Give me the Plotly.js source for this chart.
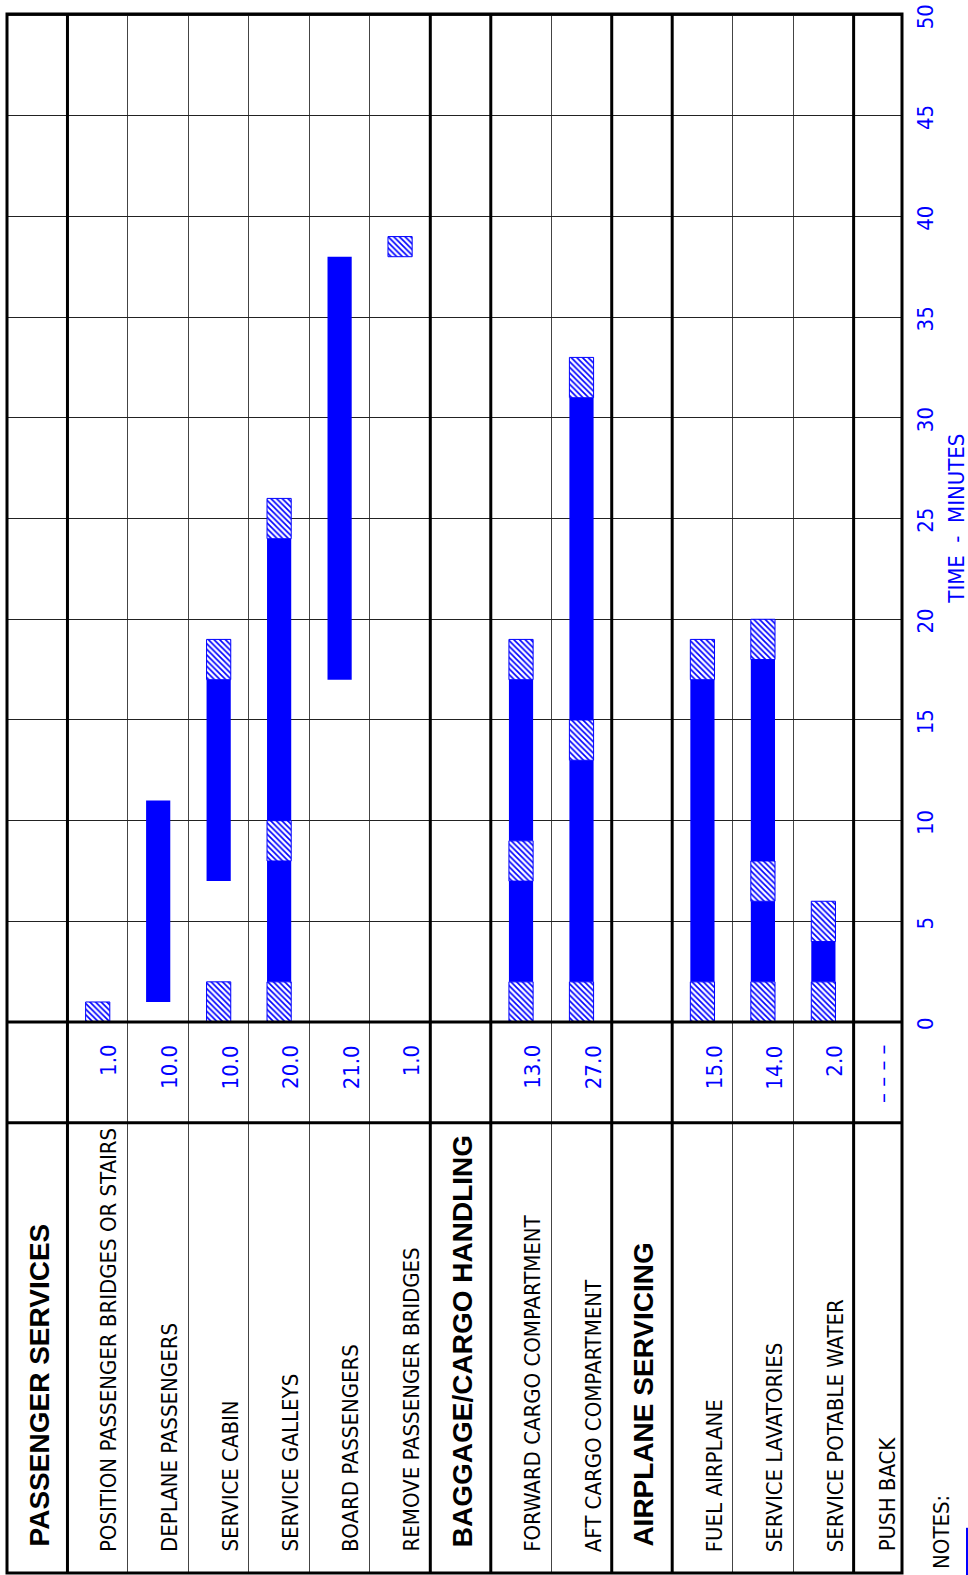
<!DOCTYPE html>
<html>
<head>
<meta charset="utf-8">
<script src="https://cdn.plot.ly/plotly-3.0.1.min.js"></script>
<style>
  html, body { margin: 0; padding: 0; background: #ffffff; }
  #chart { width: 968px; height: 1575px; }
</style>
</head>
<body>
<div id="chart"></div>
<script>
// ---- DATA ----
const categories = [
  'PASSENGER SERVICES',
  'POSITION PASSENGER BRIDGES OR STAIRS',
  'DEPLANE PASSENGERS',
  'SERVICE CABIN',
  'SERVICE GALLEYS',
  'BOARD PASSENGERS',
  'REMOVE PASSENGER BRIDGES',
  'BAGGAGE/CARGO HANDLING',
  'FORWARD CARGO COMPARTMENT',
  'AFT CARGO COMPARTMENT',
  'AIRPLANE SERVICING',
  'FUEL AIRPLANE',
  'SERVICE LAVATORIES',
  'SERVICE POTABLE WATER',
  'PUSH BACK'
];
const isHeader = [true, false, false, false, false, false, false, true, false, false, true, false, false, false, false];
const durations = ['', '1.0', '10.0', '10.0', '20.0', '21.0', '1.0', '', '13.0', '27.0', '', '15.0', '14.0', '2.0', '\u2013 \u2013 \u2013 \u2013'];
const timeTicks = [0, 5, 10, 15, 20, 25, 30, 35, 40, 45, 50];

// solid (critical) segments: column index, start minute, end minute
const solidCol   = [2, 3, 4, 4, 5, 8, 8, 9, 9, 11, 12, 12, 13];
const solidStart = [1, 7, 2, 10, 17, 2, 9, 2, 15, 2, 2, 8, 2];
const solidEnd   = [11, 17, 8, 24, 38, 7, 17, 13, 31, 17, 6, 18, 4];

// hatched segments
const hatchCol   = [1, 3, 3, 4, 4, 4, 6, 8, 8, 8, 9, 9, 9, 11, 11, 12, 12, 12, 13, 13];
const hatchStart = [0, 0, 17, 0, 8, 24, 38, 0, 7, 17, 0, 13, 31, 0, 17, 0, 6, 18, 0, 4];
const hatchEnd   = [1, 2, 19, 2, 10, 26, 39, 2, 9, 19, 2, 15, 33, 2, 19, 2, 8, 20, 2, 6];

// ---- LAYOUT STRUCTURE ----
const colWidths = categories.map((c, i) => i === categories.length - 1 ? 0.8 : 1);
const colStart = [];
let acc = 0;
colWidths.forEach(w => { colStart.push(acc); acc += w; });
const xMax = acc;
const yMin = -27.35, yMax = 50.05, valueBottom = -5;
const thickCols = [1, 7, 8, 10, 11, 14];

const BLUE = '#0000ff';
const NARROW = '"Liberation Sans Narrow", "Arial Narrow", "DejaVu Sans Condensed", sans-serif';
const BOLD = '"Liberation Sans", Arial, sans-serif';
const wide = s => s.split(' ').join(' \u00A0');

const center = c => colStart[c] + colWidths[c] / 2;

const solidTrace = {
  type: 'bar',
  x: solidCol.map(center),
  base: solidStart,
  y: solidEnd.map((e, i) => e - solidStart[i]),
  width: 0.4,
  marker: { color: BLUE, line: { width: 0 } },
  hoverinfo: 'skip',
  showlegend: false
};
const hatchTrace = {
  type: 'bar',
  x: hatchCol.map(center),
  base: hatchStart,
  y: hatchEnd.map((e, i) => e - hatchStart[i]),
  width: 0.4,
  marker: {
    color: '#ffffff',
    line: { color: BLUE, width: 1 },
    pattern: { shape: '\\', fgcolor: BLUE, bgcolor: '#ffffff', size: 4, solidity: 0.42, fillmode: 'replace' }
  },
  hoverinfo: 'skip',
  showlegend: false
};

const shapes = [];
const thick = { color: '#000000', width: 3 };
[0, valueBottom].forEach(v => shapes.push({ type: 'line', xref: 'paper', yref: 'y', x0: 0, x1: 1, y0: v, y1: v, line: thick }));
shapes.push({ type: 'rect', xref: 'paper', yref: 'paper', x0: 0, x1: 1, y0: 0, y1: 1, line: thick });
thickCols.forEach(c => shapes.push({ type: 'line', xref: 'x', yref: 'paper', x0: colStart[c], x1: colStart[c], y0: 0, y1: 1, line: thick }));
shapes.push({ type: 'line', xref: 'paper', yref: 'paper', x0: 1.0726, x1: 1.0726, y0: 0.029, y1: -0.01, line: { color: BLUE, width: 2 } });

const annotations = [];
categories.forEach((name, i) => {
  if (isHeader[i]) {
    annotations.push({
      xref: 'x', yref: 'y', x: colStart[i] + 0.53 * colWidths[i], y: -26.15,
      text: '<b>' + name + '</b>', textangle: -90, showarrow: false,
      xanchor: 'center', yanchor: 'bottom',
      font: { family: BOLD, size: 28, color: '#000000' }
    });
  } else {
    annotations.push({
      xref: 'x', yref: 'y', x: colStart[i] + 0.69 * colWidths[i], y: -26.4,
      text: name, textangle: -90, showarrow: false,
      xanchor: 'center', yanchor: 'bottom',
      font: { family: NARROW, size: 22, color: '#000000' }
    });
  }
  if (durations[i]) {
    annotations.push({
      xref: 'x', yref: 'y', x: colStart[i] + (i === categories.length - 1 ? 0.6 : 0.69) * colWidths[i], y: -1.05,
      text: durations[i], textangle: -90, showarrow: false,
      xanchor: 'center', yanchor: 'top',
      font: { family: NARROW, size: 22, color: BLUE }
    });
  }
});
annotations.push({
  xref: 'paper', yref: 'y', x: 1.0605, y: 25,
  text: wide('TIME - MINUTES'), textangle: -90, showarrow: false, borderpad: 0,
  xanchor: 'center', yanchor: 'middle',
  font: { family: NARROW, size: 22, color: BLUE }
});
annotations.push({
  xref: 'paper', yref: 'y', x: 1.0447, y: -27.25,
  text: 'NOTES:', textangle: -90, showarrow: false,
  xanchor: 'center', yanchor: 'bottom',
  font: { family: NARROW, size: 22, color: '#000000' }
});

const layout = {
  width: 968, height: 1575,
  margin: { l: 7, r: 66, t: 14, b: 2, pad: 0 },
  paper_bgcolor: '#ffffff', plot_bgcolor: '#ffffff',
  barmode: 'overlay',
  xaxis: {
    range: [0, xMax], showticklabels: false, ticks: '',
    tickvals: colStart.slice(1), showgrid: true, gridcolor: '#444444', gridwidth: 1,
    zeroline: false, showline: false, fixedrange: true
  },
  yaxis: {
    range: [yMin, yMax], side: 'right', tickvals: timeTicks, ticktext: timeTicks.map(String),
    tickangle: -90, ticks: '', showgrid: true, gridcolor: '#222222', gridwidth: 1,
    zeroline: false, showline: false, fixedrange: true, ticklabelstandoff: 8,
    ticklabeloverflow: 'allow', ticklabelshift: 5,
    tickfont: { family: NARROW, size: 22, color: BLUE }
  },
  shapes: shapes,
  annotations: annotations
};

Plotly.newPlot('chart', [solidTrace, hatchTrace], layout, { displayModeBar: false, staticPlot: true });
</script>
</body>
</html>
